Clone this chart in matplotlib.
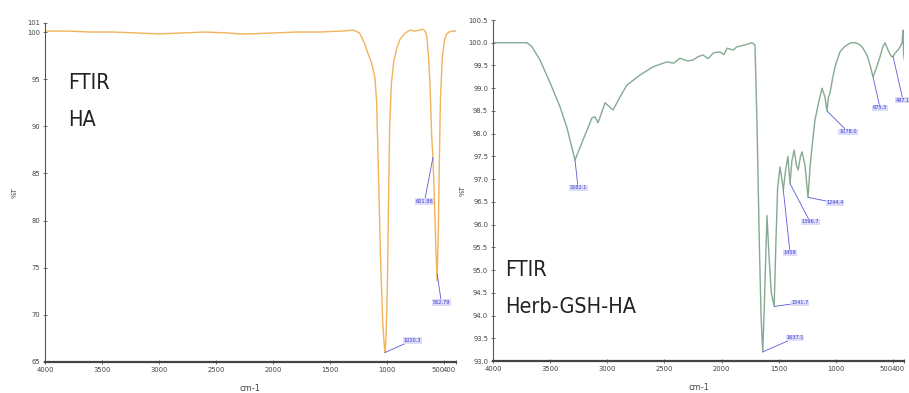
import os
import matplotlib
matplotlib.use("Agg")
import matplotlib.pyplot as plt
from matplotlib import font_manager
from matplotlib.font_manager import FontProperties
from matplotlib.transforms import ScaledTranslation

# HA spectrum (wavenumber cm-1, %T)
ha_wn = [4000, 3800, 3600, 3400, 3200, 3000, 2800, 2600, 2400, 2300, 2200, 2000, 1800, 1600,
         1400, 1300, 1244, 1200, 1170, 1140, 1110, 1095, 1080, 1060, 1040, 1025, 1020, 1012,
         1000, 990, 980, 965, 945, 920, 890, 860, 830, 800, 760, 720, 690, 670, 655, 640,
         625, 612, 601, 590, 575, 565, 555, 545, 535, 520, 500, 480, 460, 430, 400]
ha_t = [100.1, 100.1, 100.0, 100.0, 99.9, 99.8, 99.9, 100.0, 99.9, 99.8, 99.8, 99.9, 100.0, 100.0,
        100.1, 100.2, 99.9, 98.8, 97.7, 96.8, 95.2, 92.8, 86.0, 76.0, 69.0, 66.4, 66.0, 67.5,
        73.0, 82.0, 90.0, 94.5, 96.8, 98.2, 99.2, 99.7, 100.0, 100.2, 100.1, 100.2, 100.3, 100.1,
        99.6, 97.5, 94.0, 89.0, 86.7, 83.0, 77.0, 73.6, 78.0, 86.0, 93.0, 97.0, 99.2, 99.8,
        100.0, 100.1, 100.1]

# Herb-GSH-HA spectrum
hg_wn = [4000, 3850, 3702, 3659, 3589, 3501, 3414, 3353, 3283, 3213, 3134, 3108, 3081, 3020,
         2950, 2889, 2828, 2714, 2600, 2478, 2420, 2364, 2300, 2250, 2200, 2162, 2119, 2070,
         2014, 1980, 1952, 1900, 1865, 1800, 1734, 1708, 1690, 1670, 1655, 1640, 1625, 1603,
         1585, 1565, 1540, 1525, 1510, 1489, 1475, 1460, 1440, 1420, 1401, 1385, 1365, 1345,
         1330, 1310, 1296, 1270, 1244, 1225, 1209, 1183, 1150, 1121, 1095, 1078, 1065, 1051,
         1030, 1008, 964, 930, 903, 870, 833, 800, 771, 728, 700, 675, 645, 614, 590, 570,
         544, 520, 509, 495, 483, 456, 430, 421, 413, 407, 400]
hg_t = [100.0, 100.0, 100.0, 99.91, 99.62, 99.12, 98.59, 98.13, 97.42, 97.86, 98.35, 98.37, 98.24, 98.68,
        98.52, 98.81, 99.07, 99.29, 99.47, 99.58, 99.55, 99.66, 99.60, 99.62, 99.70, 99.73, 99.65, 99.78,
        99.80, 99.74, 99.88, 99.84, 99.91, 99.95, 100.0, 99.95, 98.2, 95.6, 94.0, 93.2, 94.3, 96.2,
        95.3, 94.5, 94.2, 95.6, 96.8, 97.27, 97.05, 96.76, 97.2, 97.5, 96.9, 97.4, 97.64, 97.3,
        97.2, 97.5, 97.6, 97.3, 96.6, 97.3, 97.7, 98.3, 98.7, 99.0, 98.8, 98.5, 98.8, 98.9,
        99.2, 99.47, 99.8, 99.9, 99.95, 100.0, 100.0, 99.97, 99.91, 99.73, 99.5, 99.25, 99.45, 99.69,
        99.9, 100.0, 99.84, 99.72, 99.69, 99.72, 99.77, 99.84, 99.95, 100.0, 100.28, 99.75, 99.62]

# peak labels: (text, peak wn, peak %T, label wn, label %T)
ha_peaks = [("1020.3", 1022, 66.0, 780, 67.3),
            ("601.86", 601, 86.7, 675, 82.0),
            ("562.79", 563, 74.3, 527, 71.3)]
hg_peaks = [("3282.1", 3283, 97.42, 3256, 96.81),
            ("1637.1", 1640, 93.2, 1358, 93.51),
            ("1541.7", 1540, 94.2, 1314, 94.28),
            ("1459", 1460, 96.76, 1401, 95.38),
            ("1396.7", 1401, 96.9, 1226, 96.06),
            ("1244.4", 1244, 96.6, 1008, 96.48),
            ("1078.0", 1078, 98.5, 894, 98.04),
            ("675.3", 675, 99.25, 614, 98.57),
            ("497.1", 500, 99.7, 413, 98.74)]

ha_yticks = [65, 70, 75, 80, 85, 90, 95, 100, 101]
hg_yticks = [93.0, 93.5, 94.0, 94.5, 95.0, 95.5, 96.0, 96.5, 97.0, 97.5, 98.0, 98.5, 99.0, 99.5, 100.0, 100.5]
xticks = [4000, 3500, 3000, 2500, 2000, 1500, 1000, 500, 400]


# look for a narrow sans face, the scan uses a squeezed font everywhere
def pick_narrow():
    skip = ("Bold", "Italic", "Oblique", "Light", "Thin", "Black", "Medium", "Semi",
            "Heavy", "Mono", "Display", "Serif", "UI")
    files = [f.fname for f in font_manager.fontManager.ttflist]
    for key in ("SansNarrow-Regular", "NotoSans-ExtraCondensed", "NotoSans-Condensed",
                "DejaVuSansCondensed.", "Narrow", "Condensed"):
        for fn in files:
            base = os.path.basename(fn)
            if key in base and not any(s in base for s in skip):
                return fn
    return None


narrow = pick_narrow()
base = os.path.basename(narrow) if narrow else ""
if "ExtraCondensed" in base or "Narrow" in base:
    big_size = 18
elif narrow:
    big_size = 15.5
else:
    big_size = 14
big_prop = FontProperties(fname=narrow, size=big_size) if narrow else FontProperties(family="Liberation Sans", size=big_size)
tick_prop = FontProperties(fname=narrow, size=5.4) if narrow else FontProperties(family="Liberation Sans", size=5)

fig = plt.figure(figsize=(9.09, 3.93), dpi=100)
ax1 = fig.add_axes([0.0495, 0.0789, 0.452, 0.8636])
ax2 = fig.add_axes([0.5424, 0.0814, 0.4526, 0.8677])


def style_axis(ax, yticks, yfmt, ypad):
    for s in ["top", "right"]:
        ax.spines[s].set_visible(False)
    ax.spines["left"].set_color("#555555")
    ax.spines["left"].set_linewidth(0.8)
    ax.spines["bottom"].set_color("#444444")
    ax.spines["bottom"].set_linewidth(1.6)
    ax.set_xlim(4000, 400)
    ax.set_xticks(xticks)
    ax.set_xticklabels([str(v) for v in xticks], fontproperties=tick_prop, color="#444444")
    # 500 and 400 run together like in the scan
    xl = ax.get_xticklabels()
    xl[-2].set_ha("right")
    xl[-2].set_transform(xl[-2].get_transform() + ScaledTranslation(-1.0 / 72, 0, fig.dpi_scale_trans))
    xl[-1].set_ha("right")
    ax.set_yticks(yticks)
    ax.set_yticklabels([yfmt.format(v) for v in yticks], fontproperties=tick_prop, color="#444444")
    ax.tick_params(axis="both", direction="inout", length=3, width=0.6, color="#555555", pad=2)
    ax.set_xlabel("cm-1", fontsize=6, color="#444444", labelpad=8)
    ax.set_ylabel("%T", fontsize=5, color="#444444", labelpad=ypad)


def label_peaks(ax, peaks):
    for txt, px, py, lx, ly in peaks:
        ax.annotate(txt, xy=(px, py), xytext=(lx, ly), fontsize=3.6, color="#3c3cd8",
                    ha="center", va="center",
                    bbox=dict(boxstyle="square,pad=0.15", fc="#dcdcfa", ec="none"),
                    arrowprops=dict(arrowstyle="-", color="#5a5ad8", lw=0.6, shrinkA=0, shrinkB=0))


ax1.plot(ha_wn, ha_t, color="#f3b25c", lw=1.0)
ax1.set_ylim(65, 101)
style_axis(ax1, ha_yticks, "{:d}", 7)
label_peaks(ax1, ha_peaks)
ax1.text(3800, 92.6, "FTIR\nHA", fontproperties=big_prop,
         color="#222222", va="center", ha="left", linespacing=2.05)

ax2.plot(hg_wn, hg_t, color="#86a992", lw=1.0)
ax2.set_ylim(93.0, 100.5)
style_axis(ax2, hg_yticks, "{:.1f}", 2)
label_peaks(ax2, hg_peaks)
ax2.text(3895, 94.6, "FTIR\nHerb-GSH-HA", fontproperties=big_prop,
         color="#222222", va="center", ha="left", linespacing=2.05)

fig.savefig("out.png", dpi=100)
